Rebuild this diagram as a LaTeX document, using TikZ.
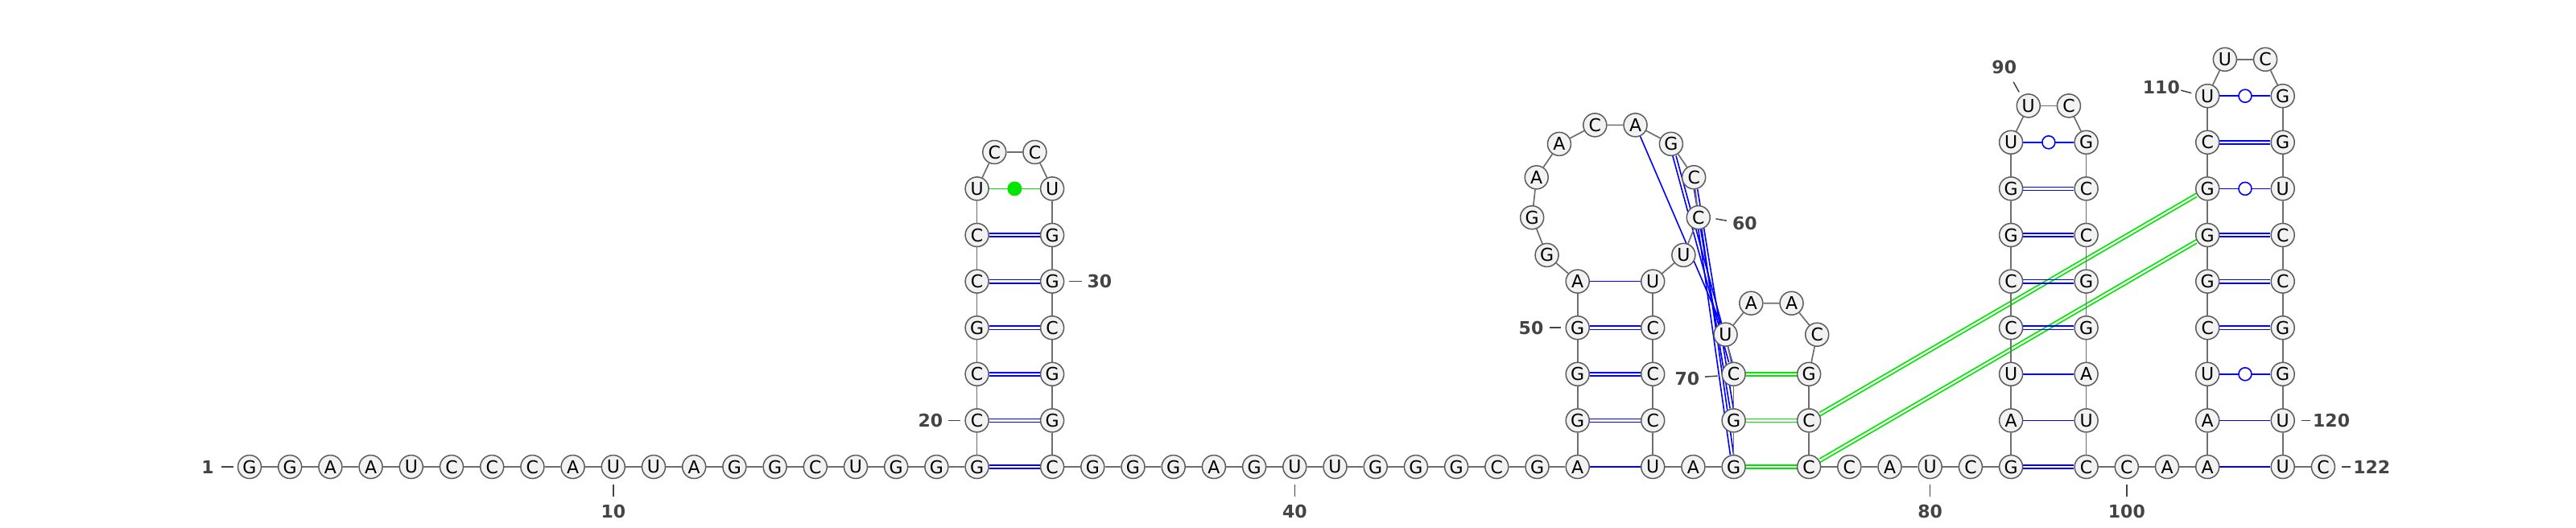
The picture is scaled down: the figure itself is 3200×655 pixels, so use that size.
\documentclass[tikz,border=0pt]{standalone}
\usepackage{fontspec}
\setmainfont{DejaVu Sans}
\usetikzlibrary{calc,backgrounds}
\definecolor{ntfill}{HTML}{F2F2F2}
\definecolor{ntline}{HTML}{5C5C5C}
\definecolor{bbone}{HTML}{6E6E6E}
\definecolor{labc}{HTML}{444444}
\definecolor{pblue}{HTML}{0000FF}
\definecolor{pgreen}{HTML}{00E600}
% double pair lines drawn as two parallel strokes
\newcommand\hpr[3]{\draw[#1,transform canvas={yshift=1.05pt}](#2)--(#3);\draw[#1,transform canvas={yshift=-1.05pt}](#2)--(#3);}
\newcommand\vpr[3]{\draw[#1,transform canvas={xshift=1.05pt}](#2)--(#3);\draw[#1,transform canvas={xshift=-1.05pt}](#2)--(#3);}
\newcommand\spr[3]{\draw[#1,transform canvas={yshift=1.2pt}](#2)--(#3);\draw[#1,transform canvas={yshift=-1.2pt}](#2)--(#3);}
\begin{document}
\begin{tikzpicture}[x=0.5pt,y=-0.5pt,
  nt/.style={circle,draw=ntline,fill=ntfill,line width=0.75pt,minimum size=14.5pt,inner sep=0pt,font=\fontsize{11pt}{13pt}\selectfont},
  bb/.style={draw=bbone,line width=0.85pt},
  pb/.style={draw=pblue,line width=0.8pt},
  pg/.style={draw=pgreen,line width=0.8pt},
  wob/.style={circle,draw=pblue,fill=white,line width=0.8pt,minimum size=8pt,inner sep=0pt},
  gdot/.style={circle,fill=pgreen,minimum size=9pt,inner sep=0pt},
  tk/.style={draw=labc,line width=0.75pt},
  lab/.style={inner sep=0pt,text=labc,font=\bfseries\fontsize{11pt}{13pt}\selectfont}]
\useasboundingbox (0,0) rectangle (3200,655);
% nucleotides
\foreach \i/\b/\x/\y in {
1/G/310/580, 2/G/360.2/580, 3/A/410.4/580, 4/A/460.6/580, 5/U/510.8/580,
6/C/561.0/580, 7/C/611.2/580, 8/C/661.4/580, 9/A/711.6/580, 10/U/761.8/580,
11/U/812.0/580, 12/A/862.2/580, 13/G/912.4/580, 14/G/962.6/580, 15/C/1012.8/580,
16/U/1063.0/580, 17/G/1113.2/580, 18/G/1163.4/580, 19/G/1213.6/580,
20/C/1213.6/522.4, 21/C/1213.6/464.8, 22/G/1213.6/407.2, 23/C/1213.6/349.6,
24/C/1213.6/292.0, 25/U/1213.6/234.4, 26/C/1235.25/189.0, 27/C/1285.45/189.0,
28/U/1307.1/234.4, 29/G/1307.1/292.0, 30/G/1307.1/349.6, 31/C/1307.1/407.2,
32/G/1307.1/464.8, 33/G/1307.1/522.4, 34/C/1307.1/580,
35/G/1357.3/580, 36/G/1407.5/580, 37/G/1457.7/580, 38/A/1507.9/580, 39/G/1558.1/580,
40/U/1608.3/580, 41/U/1658.5/580, 42/G/1708.7/580, 43/G/1758.9/580, 44/G/1809.1/580,
45/C/1859.3/580, 46/G/1909.5/580,
47/A/1959.7/580, 48/G/1959.7/522.4, 49/G/1959.7/464.8, 50/G/1959.7/407.2, 51/A/1959.7/349.6,
52/G/1921.58/316.94, 53/G/1903.16/270.24, 54/A/1908.71/220.35, 55/A/1936.93/178.86,
56/C/1981.31/155.36, 57/A/2031.51/155.34, 58/G/2075.91/178.80, 59/C/2104.16/220.27,
60/C/2109.75/270.16, 61/U/2091.37/316.87,
62/U/2053.2/349.6, 63/C/2053.2/407.2, 64/C/2053.2/464.8, 65/C/2053.2/522.4, 66/U/2053.2/580,
67/A/2103.4/580,
68/G/2153.6/580, 69/G/2153.6/522.4, 70/C/2153.6/464.8,
71/U/2143.52/415.60, 72/A/2175.29/376.70, 73/A/2225.51/376.74, 74/C/2257.20/415.70,
75/G/2247.1/464.8, 76/C/2247.1/522.4, 77/C/2247.1/580,
78/C/2297.3/580, 79/A/2347.5/580, 80/U/2397.7/580, 81/C/2447.9/580,
82/G/2498.1/580, 83/A/2498.1/522.4, 84/U/2498.1/464.8, 85/C/2498.1/407.2,
86/C/2498.1/349.6, 87/G/2498.1/292.0, 88/G/2498.1/234.4, 89/U/2498.1/176.8,
90/U/2519.75/131.4, 91/C/2569.95/131.4,
92/G/2591.6/176.8, 93/C/2591.6/234.4, 94/C/2591.6/292.0, 95/G/2591.6/349.6,
96/G/2591.6/407.2, 97/A/2591.6/464.8, 98/U/2591.6/522.4, 99/C/2591.6/580,
100/C/2641.8/580, 101/A/2692.0/580,
102/A/2742.2/580, 103/A/2742.2/522.4, 104/U/2742.2/464.8, 105/C/2742.2/407.2,
106/G/2742.2/349.6, 107/G/2742.2/292.0, 108/G/2742.2/234.4, 109/C/2742.2/176.8,
110/U/2742.2/119.2, 111/U/2763.85/73.8, 112/C/2814.05/73.8,
113/G/2835.7/119.2, 114/G/2835.7/176.8, 115/U/2835.7/234.4, 116/C/2835.7/292.0,
117/C/2835.7/349.6, 118/G/2835.7/407.2, 119/G/2835.7/464.8, 120/U/2835.7/522.4,
121/U/2835.7/580, 122/C/2885.9/580}
  {\node[nt] (n\i) at (\x,\y) {\b};}
% pair markers
\node[gdot] (d25) at ($(n25)!0.5!(n28)$) {};
\node[wob] (w89) at ($(n89)!0.5!(n92)$) {};
\node[wob] (w104) at ($(n104)!0.5!(n119)$) {};
\node[wob] (w108) at ($(n108)!0.5!(n115)$) {};
\node[wob] (w110) at ($(n110)!0.5!(n113)$) {};
\begin{pgfonlayer}{background}
% long green tertiary pairs
\spr{pg}{n76}{n108}
\spr{pg}{n77}{n107}
% pseudoknot blue pairs
\draw[pb] (n57) -- (n71);
\vpr{pb}{n58}{n70}
\vpr{pb}{n59}{n69}
\vpr{pb}{n60}{n68}
% backbone
\foreach \i [evaluate=\i as \j using int(\i+1)] in {1,...,121} {\draw[bb] (n\i) -- (n\j);}
% stem 1
\hpr{pb}{n19}{n34} \hpr{pb}{n20}{n33} \hpr{pb}{n21}{n32}
\hpr{pb}{n22}{n31} \hpr{pb}{n23}{n30} \hpr{pb}{n24}{n29}
\draw[pg] (n25) -- (n28);
% stem 2
\draw[pb] (n47) -- (n66);
\hpr{pb}{n48}{n65} \hpr{pb}{n49}{n64} \hpr{pb}{n50}{n63}
\draw[pb] (n51) -- (n62);
% stem 4
\hpr{pg}{n68}{n77} \hpr{pg}{n69}{n76} \hpr{pg}{n70}{n75}
% stem 3
\hpr{pb}{n82}{n99}
\draw[pb] (n83) -- (n98);
\draw[pb] (n84) -- (n97);
\hpr{pb}{n85}{n96} \hpr{pb}{n86}{n95} \hpr{pb}{n87}{n94} \hpr{pb}{n88}{n93}
\draw[pb] (n89) -- (n92);
% stem 5
\draw[pb] (n102) -- (n121);
\draw[pb] (n103) -- (n120);
\draw[pb] (n104) -- (n119);
\hpr{pb}{n105}{n118} \hpr{pb}{n106}{n117} \hpr{pb}{n107}{n116}
\draw[pb] (n108) -- (n115);
\hpr{pb}{n109}{n114}
\draw[pb] (n110) -- (n113);
\end{pgfonlayer}
% position labels
\draw[tk] ($(n1)+(-35,0)$) -- ($(n1)+(-20,0)$);
\node[lab,anchor=east] (l1) at ($(n1)+(-44,0)$) {1};
\draw[tk] ($(n10)+(0,22)$) -- ($(n10)+(0,37)$);
\node[lab,anchor=north] (l10) at ($(n10)+(0,47)$) {10};
\draw[tk] ($(n20)+(-36,0)$) -- ($(n20)+(-21,0)$);
\node[lab,anchor=east] (l20) at ($(n20)+(-42,0)$) {20};
\draw[tk] ($(n30)+(21,0)$) -- ($(n30)+(37,0)$);
\node[lab,anchor=west] (l30) at ($(n30)+(43,0)$) {30};
\draw[tk] ($(n40)+(0,22)$) -- ($(n40)+(0,37)$);
\node[lab,anchor=north] (l40) at ($(n40)+(0,47)$) {40};
\draw[tk] ($(n50)+(-35,0)$) -- ($(n50)+(-21,0)$);
\node[lab,anchor=east] (l50) at ($(n50)+(-42,0)$) {50};
\draw[tk] ($(n60)+(21.7,1.7)$) -- ($(n60)+(35,4)$);
\node[lab,anchor=west] (l60) at ($(n60)+(42,7.3)$) {60};
\draw[tk] ($(n70)+(-20,2.3)$) -- ($(n70)+(-35.7,3.3)$);
\node[lab,anchor=east] (l70) at ($(n70)+(-42,5.7)$) {70};
\draw[tk] ($(n80)+(0,22)$) -- ($(n80)+(0,37)$);
\node[lab,anchor=north] (l80) at ($(n80)+(0,47)$) {80};
\draw[tk] ($(n90)+(-11.6,-17)$) -- ($(n90)+(-18.6,-29.6)$);
\node[lab,anchor=south] (l90) at ($(n90)+(-30,-39)$) {90};
\draw[tk] ($(n100)+(0,22)$) -- ($(n100)+(0,37)$);
\node[lab,anchor=north] (l100) at ($(n100)+(0,47)$) {100};
\draw[tk] ($(n110)+(-20,-3.6)$) -- ($(n110)+(-33,-7)$);
\node[lab,anchor=east] (l110) at ($(n110)+(-34,-11)$) {110};
\draw[tk] ($(n120)+(23,0)$) -- ($(n120)+(34,0)$);
\node[lab,anchor=west] (l120) at ($(n120)+(37,0)$) {120};
\draw[tk] ($(n122)+(23,0)$) -- ($(n122)+(34,0)$);
\node[lab,anchor=west] (l122) at ($(n122)+(37,0)$) {122};
\end{tikzpicture}
\end{document}
